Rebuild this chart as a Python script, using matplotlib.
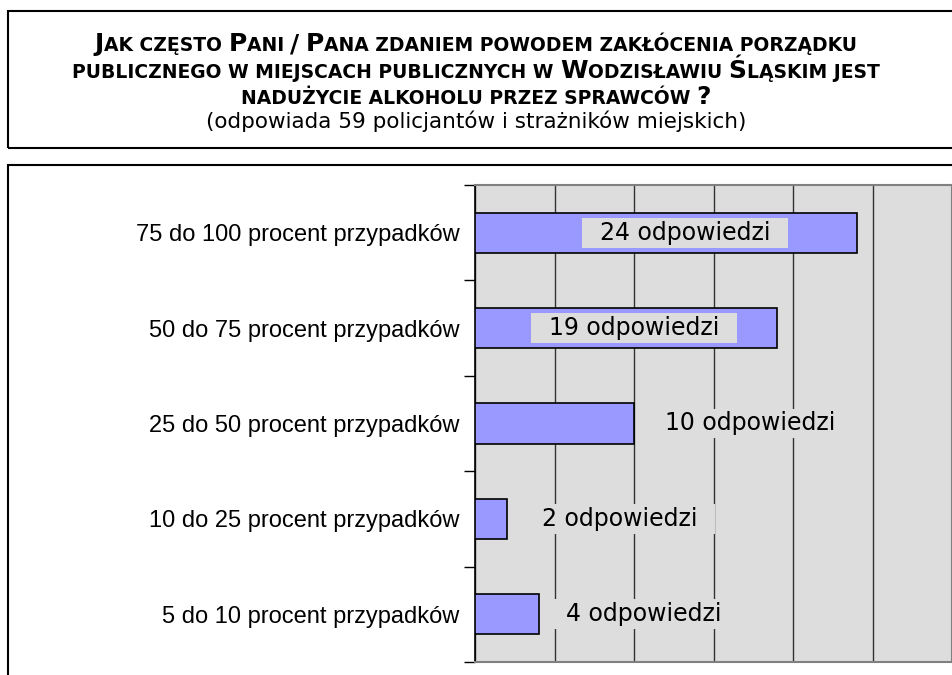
import numpy as np
import matplotlib
matplotlib.use("Agg")
import matplotlib.pyplot as plt
from matplotlib.patches import Rectangle
from matplotlib.offsetbox import TextArea, HPacker, AnnotationBbox

# ---- data ----
categories = ["75 do 100 procent przypadków",
              "50 do 75 procent przypadków",
              "25 do 50 procent przypadków",
              "10 do 25 procent przypadków",
              "5 do 10 procent przypadków"]
values = [24, 19, 10, 2, 4]
label_suffix = "odpowiedzi"
title_lines = ["Jak często Pani / Pana zdaniem powodem zakłócenia porządku",
               "publicznego w miejscach publicznych w Wodzisławiu Śląskim jest",
               "nadużycie alkoholu przez sprawców ?"]
subtitle = "(odpowiada 59 policjantów i strażników miejskich)"

# ---- layout (not data) ----
label_x = [13.2, 10.0, 17.3, 9.1, 10.6]
W, H = 952, 675
BIG, SMALL = 18, 13.5

fig = plt.figure(figsize=(W / 100, H / 100), dpi=100)
fig.patch.set_facecolor("white")

# frames
fig.add_artist(Rectangle((8 / W, 1 - 148 / H), 1.2, (148 - 11) / H,
                         transform=fig.transFigure, fill=False, ec="black", lw=1.5))
fig.add_artist(Rectangle((8 / W, -0.2), 1.2, 0.2 + 1 - 165 / H,
                         transform=fig.transFigure, fill=False, ec="black", lw=1.5))

# title in small caps
overlay = fig.add_axes([0, 0, 1, 1])
overlay.axis("off")
overlay.set_zorder(5)


def smallcaps_box(s):
    segs = []
    for ch in s:
        big = ch.isupper() or ch in "/?"
        if segs and segs[-1][0] == big:
            segs[-1][1] += ch
        else:
            segs.append([big, ch])
    children = []
    for big, txt in segs:
        children.append(TextArea(txt.upper(), textprops=dict(
            fontsize=BIG if big else SMALL, fontweight="bold",
            family="DejaVu Sans", color="black")))
    return HPacker(children=children, align="baseline", pad=0, sep=0)


for i, line in enumerate(title_lines):
    ypix = [44, 71, 97][i]
    ab = AnnotationBbox(smallcaps_box(line), (0.5, 1 - ypix / H),
                        xycoords="figure fraction", frameon=False,
                        box_alignment=(0.5, 0.5), pad=0)
    overlay.add_artist(ab)

fig.text(0.5, 1 - 121 / H, subtitle, ha="center", va="center",
         fontsize=15.5, family="DejaVu Sans")

# chart
ax = fig.add_axes([475 / W, 1 - 662 / H, 1 - 475 / W, (662 - 185) / H])
ax.set_facecolor("#DDDDDD")
y = np.arange(len(categories))
ax.barh(y, values, height=0.42, color="#9999FF", edgecolor="black",
        linewidth=1.2, zorder=3)
ax.set_xlim(0, 30)
ax.set_ylim(len(categories) - 0.5, -0.5)
ax.set_xticks(np.arange(0, 31, 5))
ax.xaxis.grid(True, color="#333333", lw=1)
ax.set_axisbelow(True)
ax.tick_params(axis="x", length=0, labelbottom=False)
ax.set_yticks(y, labels=categories)
for t in ax.get_yticklabels():
    t.set_fontfamily("Liberation Sans")
    t.set_fontsize(17)
ax.tick_params(axis="y", which="major", length=0, pad=11)
ax.set_yticks(np.arange(-0.5, len(categories), 1), minor=True)
ax.tick_params(axis="y", which="minor", length=8, width=1, color="black",
               direction="out")
for side in ["top", "right", "bottom"]:
    ax.spines[side].set_color("#808080")
    ax.spines[side].set_linewidth(1.5)
ax.spines["left"].set_color("black")
ax.spines["left"].set_linewidth(1.2)

for lx, yi, v in zip(label_x, y, values):
    ax.text(lx, yi, f"  {v} {label_suffix}  ", ha="center", va="center",
            fontsize=17, family="DejaVu Sans", zorder=4,
            bbox=dict(boxstyle="square,pad=0.12", fc="#DDDDDD", ec="none"))

fig.savefig("out.png", dpi=100)
